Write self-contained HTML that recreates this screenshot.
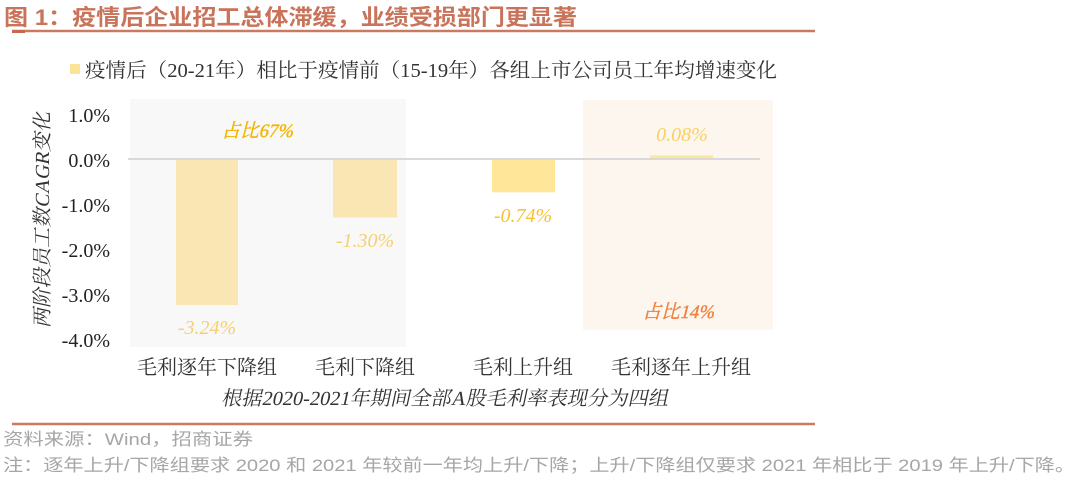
<!DOCTYPE html>
<html><head><meta charset="utf-8"><style>
html,body{margin:0;padding:0;background:#fff;width:1080px;height:480px;overflow:hidden}
svg{display:block}
.s{font-family:"Liberation Serif","Noto Serif CJK SC",serif}
.h{font-family:"Liberation Sans","Noto Sans CJK SC",sans-serif}
</style></head><body>
<svg width="1080" height="480" viewBox="0 0 1080 480" xmlns="http://www.w3.org/2000/svg">
<!-- title -->
<text class="h" x="4" y="25" font-size="22" font-weight="bold" fill="#c8735a" textLength="573" lengthAdjust="spacingAndGlyphs">图 1：疫情后企业招工总体滞缓，业绩受损部门更显著</text>
<line x1="12" y1="31" x2="815" y2="31" stroke="#c97a60" stroke-width="2.5"/>
<rect x="12" y="30" width="13" height="3" fill="#c26a50"/>

<!-- legend -->
<rect x="70" y="64" width="10" height="10" fill="#fde39a"/>
<text class="s" x="85" y="77" font-size="20" fill="#333" textLength="692" lengthAdjust="spacingAndGlyphs">疫情后（20-21年）相比于疫情前（15-19年）各组上市公司员工年均增速变化</text>

<!-- panels -->
<rect x="130" y="99" width="276" height="248" fill="#f8f8f8"/>
<rect x="583" y="100" width="190" height="230" fill="#fcf6ef"/>

<!-- bars -->
<rect x="176" y="159" width="62" height="146" fill="#f9e6b3"/>
<rect x="333" y="159" width="64" height="58.5" fill="#f9e6b3"/>
<rect x="492" y="159" width="63" height="33.3" fill="#ffe699"/>
<rect x="650" y="155.4" width="63" height="3.6" fill="#ffe699"/>

<!-- zero line -->
<line x1="128" y1="159" x2="760" y2="159" stroke="#d9d9d9" stroke-width="2"/>

<!-- y tick labels -->
<g class="s" font-size="20" fill="#222" text-anchor="end">
<text x="110" y="122">1.0%</text>
<text x="110" y="167">0.0%</text>
<text x="110" y="212">-1.0%</text>
<text x="110" y="257">-2.0%</text>
<text x="110" y="302">-3.0%</text>
<text x="110" y="347">-4.0%</text>
</g>

<!-- y title -->
<g transform="translate(49,220) rotate(-90) skewX(-12)">
<text class="s" x="0" y="0" font-size="20" fill="#333" text-anchor="middle" textLength="216" lengthAdjust="spacingAndGlyphs">两阶段员工数CAGR变化</text>
</g>

<!-- data labels -->
<g class="s" font-size="20" font-style="italic" text-anchor="middle">
<text x="207" y="334" fill="#f8cf70">-3.24%</text>
<text x="365" y="247" fill="#f8cf70">-1.30%</text>
<text x="523" y="222" fill="#f8c12e">-0.74%</text>
<text x="682" y="141" fill="#fbd060">0.08%</text>
</g>
<g transform="translate(257,137) skewX(-14)">
<text class="s" x="0" y="0" font-size="19" fill="#f5b400" stroke="#f5b400" stroke-width="0.4" text-anchor="middle" textLength="71" lengthAdjust="spacingAndGlyphs">占比67%</text>
</g>
<g transform="translate(678,318) skewX(-14)">
<text class="s" x="0" y="0" font-size="19" fill="#ee8240" stroke="#ee8240" stroke-width="0.4" text-anchor="middle" textLength="71" lengthAdjust="spacingAndGlyphs">占比14%</text>
</g>

<!-- category labels -->
<g class="s" font-size="20" fill="#333" text-anchor="middle">
<text x="207" y="374">毛利逐年下降组</text>
<text x="365" y="374">毛利下降组</text>
<text x="523" y="374">毛利上升组</text>
<text x="681" y="374">毛利逐年上升组</text>
</g>

<!-- subtitle -->
<g transform="translate(221,405) skewX(-12)">
<text class="s" x="0" y="0" font-size="20" fill="#333" textLength="447" lengthAdjust="spacingAndGlyphs">根据2020-2021年期间全部A股毛利率表现分为四组</text>
</g>

<!-- bottom line -->
<line x1="12" y1="424" x2="815" y2="424" stroke="#c97a60" stroke-width="2.5"/>

<!-- footer -->
<text class="h" x="3" y="445" font-size="17" fill="#a6a6a6" textLength="250" lengthAdjust="spacingAndGlyphs">资料来源：Wind，招商证券</text>
<text class="h" x="3" y="471" font-size="17" fill="#a6a6a6" textLength="1072" lengthAdjust="spacingAndGlyphs">注：逐年上升/下降组要求 2020 和 2021 年较前一年均上升/下降；上升/下降组仅要求 2021 年相比于 2019 年上升/下降。</text>
</svg>
</body></html>
